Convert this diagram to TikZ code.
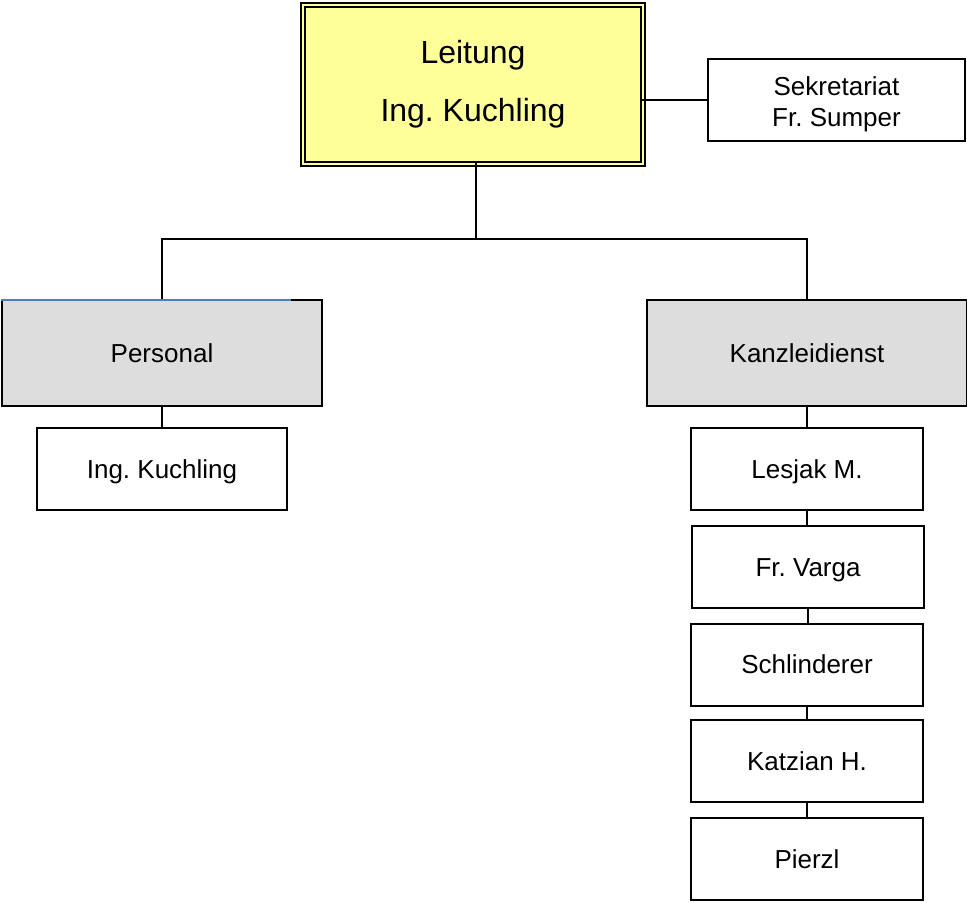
\documentclass[tikz,border=0pt]{standalone}
\usepackage{fontspec}
\setmainfont{Liberation Sans}
\usepackage{tikz}
\usetikzlibrary{positioning}
\frenchspacing
\definecolor{headyellow}{HTML}{FFFF99}
\definecolor{unitgray}{HTML}{DDDDDD}
\definecolor{edgeblue}{HTML}{4F7BBF}
\tikzset{
  orgbox/.style={draw=black,line width=1pt,fill=white,inner sep=0pt,outer sep=0pt,
    align=center,font=\fontsize{13}{15.5}\selectfont,text height=9.3pt,text depth=0pt},
  staffbox/.style={orgbox,minimum width=116pt,minimum height=41pt},
  unitbox/.style={orgbox,fill=unitgray,minimum width=160pt,minimum height=53pt},
  headbox/.style={draw=black,line width=1pt,double=headyellow,double distance=1.4pt,
    fill=headyellow,inner sep=0pt,outer sep=0pt,align=center,
    font=\fontsize{16}{29}\selectfont,minimum width=170pt,minimum height=79.5pt},
  link/.style={line width=1pt}
}
\begin{document}
\begin{tikzpicture}[line cap=rect,line join=miter,x=0.5pt,y=-0.5pt]
\useasboundingbox (0,0) rectangle (967,902);
\clip (0,0) rectangle (967,902);
% top
\node[headbox] (leitung) at (473,84.5) {Leitung\\Ing. Kuchling};
\node[orgbox,minimum width=128.5pt,minimum height=41pt,text height=26.3pt] (sekr) at (836.5,100) {Sekretariat\\Fr. Sumper};
\draw[link] (sekr.west) -- (sekr.west -| leitung.east);
% units
\coordinate (fork) at (476,239);
\node[unitbox] (personal) at (162,353) {Personal};
\node[unitbox] (kanzlei) at (807,353) {Kanzleidienst};
\draw[link] (leitung.south -| fork) -- (fork);
\draw[link] (personal.north) |- (fork) -| (kanzlei.north);
\draw[edgeblue,line width=1pt] (personal.north west) -- ++(288,0);
% Personal
\node[orgbox,minimum width=125pt,minimum height=41pt] (kuchling) at (162,469) {Ing. Kuchling};
\draw[link] (personal.south) -- (kuchling.north);
% Kanzleidienst
\node[staffbox] (lesjak) at (807,469) {Lesjak M.};
\node[staffbox] (varga) at (808,567) {Fr. Varga};
\node[staffbox] (schlinderer) at (807,664.5) {Schlinderer};
\node[staffbox] (katzian) at (807,761) {Katzian H.};
\node[staffbox] (pierzl) at (807,859) {Pierzl};
\draw[link] (kanzlei.south) -- (lesjak.north);
\foreach \a/\b in {lesjak/varga,varga/schlinderer,schlinderer/katzian,katzian/pierzl}
  \draw[link] (\a.south) -- (\a.south |- \b.north);
\end{tikzpicture}
\end{document}
